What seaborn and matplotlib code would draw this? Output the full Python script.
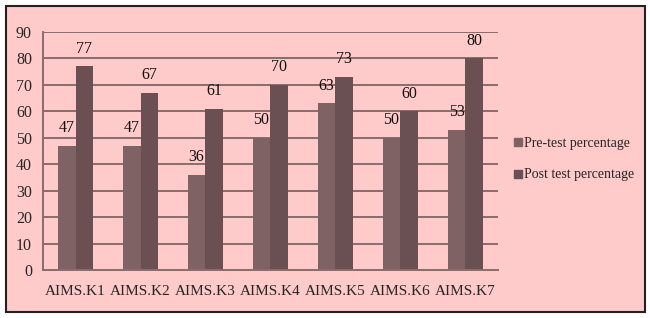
import matplotlib
matplotlib.use("Agg")
import matplotlib.pyplot as plt
from matplotlib.patches import Rectangle
from matplotlib.lines import Line2D
import seaborn as sns
import pandas as pd

categories = ["AIMS.K1", "AIMS.K2", "AIMS.K3", "AIMS.K4", "AIMS.K5", "AIMS.K6", "AIMS.K7"]
pre_test = [47, 47, 36, 50, 63, 50, 53]
post_test = [77, 67, 61, 70, 73, 60, 80]
series_names = ["Pre-test percentage", "Post test percentage"]
y_ticks = [0, 10, 20, 30, 40, 50, 60, 70, 80, 90]

df = pd.DataFrame({
    "cat": categories * 2,
    "val": pre_test + post_test,
    "series": [series_names[0]] * len(categories) + [series_names[1]] * len(categories),
})

sns.set_style("white")
plt.rcParams["font.family"] = ["Liberation Serif", "DejaVu Serif"]

bg = "#FFCACA"
c_pre = "#7E6264"
c_post = "#6A5052"
grid_c = "#8A6C6C"

fig = plt.figure(figsize=(6.5, 3.18), dpi=100)
fig.patch.set_facecolor("white")
fig.patches.append(Rectangle((6/650, 6/318), 639/650, 306/318, transform=fig.transFigure,
                             facecolor=bg, edgecolor="#222222", linewidth=1.5, zorder=-10))
ax = fig.add_axes([43/650, 1 - 270/318, 455/650, 238/318])
ax.set_facecolor("none")

sns.barplot(data=df, x="cat", y="val", hue="series", palette=[c_pre, c_post],
            width=0.55, gap=0, ax=ax, legend=False, saturation=1, edgecolor="none")

ax.set_ylim(0, 90)
ax.set_yticks(y_ticks)
ax.set_xlim(-0.5, len(categories) - 0.5)
for y in y_ticks[1:]:
    ax.axhline(y, color=grid_c, linewidth=1.4, zorder=0)
for s in ["top", "right"]:
    ax.spines[s].set_visible(False)
ax.spines["left"].set_color(grid_c)
ax.spines["bottom"].set_color(grid_c)
ax.spines["left"].set_linewidth(1.4)
ax.spines["bottom"].set_linewidth(1.4)
ax.set_xlabel("")
ax.set_ylabel("")

ax.set_xticks(range(len(categories)))
ax.set_xticklabels(categories, fontsize=11)
ax.tick_params(axis="x", length=0, pad=11)
ax.set_xticks([i - 0.5 for i in range(len(categories) + 1)], minor=True)
ax.tick_params(axis="x", which="minor", length=5, color=grid_c, width=1.2, direction="out")
ax.tick_params(axis="y", length=5, color=grid_c, width=1.2, labelsize=11.5, pad=3, direction="out")

for cont in ax.containers:
    for bar in cont:
        h = bar.get_height()
        ax.annotate(f"{h:.0f}", (bar.get_x() + bar.get_width() / 2, h),
                    xytext=(0, 7), textcoords="offset points", ha="center", va="bottom",
                    fontsize=11.5, color="#111111")

handles = [Line2D([], [], marker="s", linestyle="none", markersize=6, color=c) for c in [c_pre, c_post]]
fig.legend(handles, series_names, loc="center left", bbox_to_anchor=(500/650, 1 - 159/318),
           frameon=False, fontsize=10, handletextpad=0.05, labelspacing=1.35, handlelength=0.8)

fig.savefig("out.png", dpi=100, facecolor=fig.get_facecolor())
